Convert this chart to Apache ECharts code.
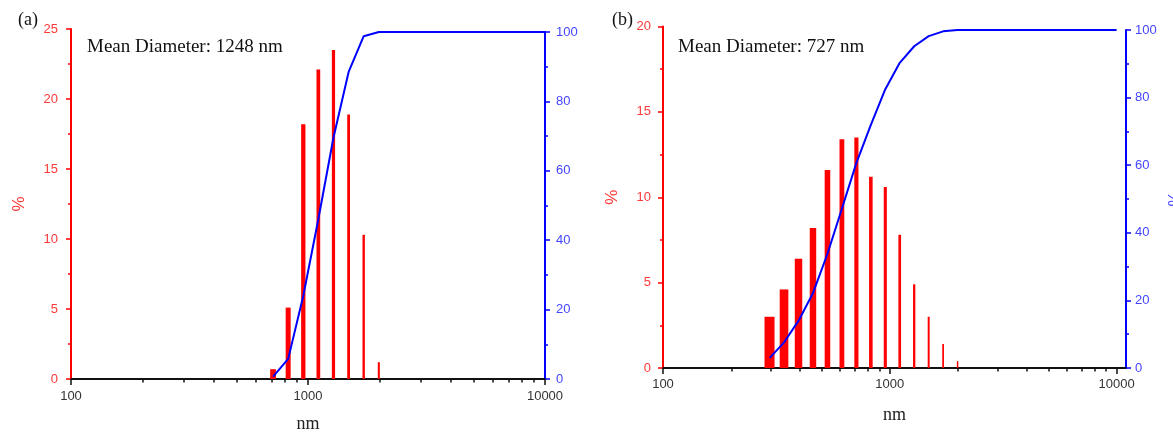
<!DOCTYPE html>
<html>
<head>
<meta charset="utf-8">
<script src="https://cdn.jsdelivr.net/npm/echarts@6/dist/echarts.min.js"></script>
<style>
  html, body { margin: 0; padding: 0; background: #ffffff; }
  #chart { width: 1173px; height: 434px; }
</style>
</head>
<body>
<div id="chart"></div>
<script>
// ---- Sample (a): intensity distribution per size bin (nm, %) ----
const binsA = [712.4, 825.0, 955.4, 1106, 1281, 1484, 1718, 1990];
const pctA  = [0.7, 5.1, 18.2, 22.1, 23.5, 18.9, 10.3, 1.2];
// cumulative undersize (%) for sample (a)
const cumBinsA = [712.4, 825.0, 955.4, 1106, 1281, 1484, 1718, 1990, 2305, 2669, 3091, 3580, 4145, 4801, 5560, 6439, 7456, 8635, 10000];
const cumA     = [0.7, 5.8, 24.0, 46.1, 69.6, 88.5, 98.8, 100, 100, 100, 100, 100, 100, 100, 100, 100, 100, 100, 100];

// ---- Sample (b) ----
const binsB = [295.3, 342.0, 396.1, 458.7, 531.2, 615.1, 712.4, 825.0, 955.4, 1106, 1281, 1484, 1718, 1990];
const pctB  = [3.0, 4.6, 6.4, 8.2, 11.6, 13.4, 13.5, 11.2, 10.6, 7.8, 4.9, 3.0, 1.4, 0.4];
const cumBinsB = [295.3, 342.0, 396.1, 458.7, 531.2, 615.1, 712.4, 825.0, 955.4, 1106, 1281, 1484, 1718, 1990, 2305, 2669, 3091, 3580, 4145, 4801, 5560, 6439, 7456, 8635, 10000];
const cumB     = [3.0, 7.6, 14.0, 22.2, 33.8, 47.2, 60.7, 71.9, 82.5, 90.3, 95.2, 98.2, 99.6, 100, 100, 100, 100, 100, 100, 100, 100, 100, 100, 100, 100];

// ---- Text and tick values ----
const meanTextA = 'Mean Diameter: 1248 nm';
const meanTextB = 'Mean Diameter: 727 nm';
const majorTicks = [100, 1000, 10000];
const minorTicks = [200, 300, 400, 500, 600, 700, 800, 900, 2000, 3000, 4000, 5000, 6000, 7000, 8000, 9000];

const RED = '#ff0000', RED_TEXT = '#ff3838';
const BLUE = '#0000ff', BLUE_TEXT = '#4545ff';
const SANS = '"Liberation Sans", Arial, sans-serif';
const SERIF = '"Liberation Serif", "Times New Roman", serif';

const zip = (xs, ys) => xs.map((x, i) => [x, ys[i]]);

// bars have a fixed width in nm, so they narrow along the log axis
function barRenderer(halfWidthNm) {
  return function (params, api) {
    const x = api.value(0), v = api.value(1);
    const base = api.coord([x - halfWidthNm, 0]);
    const top = api.coord([x + halfWidthNm, v]);
    return {
      type: 'rect',
      shape: { x: base[0], y: top[1], width: top[0] - base[0], height: base[1] - top[1] },
      style: { fill: RED }
    };
  };
}

function xMajor(gridIndex, max, labelMargin, nameGap) {
  return {
    type: 'log', gridIndex, min: 100, max, logBase: 10,
    axisLine: { show: true, onZero: false, lineStyle: { color: '#111', width: 2 } },
    axisTick: { show: true, customValues: majorTicks, length: 6, lineStyle: { color: '#111', width: 1.5 } },
    minorTick: { show: false },
    axisLabel: {
      customValues: majorTicks, margin: labelMargin, color: '#333', fontSize: 13, fontFamily: SANS,
      formatter: v => String(Math.round(v))
    },
    splitLine: { show: false },
    name: 'nm', nameLocation: 'middle', nameGap,
    nameTextStyle: { fontFamily: SERIF, fontSize: 18, color: '#222' }
  };
}
function xMinor(gridIndex, max) {
  return {
    type: 'log', gridIndex, min: 100, max, logBase: 10,
    axisLine: { show: false, onZero: false },
    axisTick: { show: true, customValues: minorTicks, length: 3.5, lineStyle: { color: '#111', width: 1.5 } },
    axisLabel: { show: false },
    splitLine: { show: false }
  };
}
function yAxisDef(gridIndex, max, interval, position, lineColor, textColor, labelMargin, nameGap) {
  return {
    type: 'value', gridIndex, min: 0, max, interval, position,
    axisLine: { show: true, lineStyle: { color: lineColor, width: 2 } },
    axisTick: { show: true, length: 5, lineStyle: { color: lineColor, width: 1.5 } },
    minorTick: { show: true, splitNumber: 2, length: 3, lineStyle: { color: lineColor, width: 1.5 } },
    axisLabel: { color: textColor, fontSize: 13, fontFamily: SANS, margin: labelMargin },
    splitLine: { show: false },
    name: nameGap ? '%' : '', nameLocation: 'middle', nameGap: nameGap || 0, nameRotate: 90,
    nameTextStyle: { color: textColor, fontSize: 17, fontFamily: SANS }
  };
}

const gridBase = { outerBoundsMode: 'none', containLabel: false };

const chart = echarts.init(document.getElementById('chart'), null, { renderer: 'canvas' });
chart.setOption({
  animation: false,
  backgroundColor: '#ffffff',
  grid: [
    Object.assign({ left: 71,  right: 628, top: 29,   bottom: 55 }, gridBase),
    Object.assign({ left: 71,  right: 628, top: 32,   bottom: 55 }, gridBase),
    Object.assign({ left: 663, right: 47,  top: 26.5, bottom: 66 }, gridBase),
    Object.assign({ left: 663, right: 47,  top: 30,   bottom: 66 }, gridBase)
  ],
  xAxis: [
    xMajor(0, 10000, 11, 36),
    xMinor(1, 10000),
    xMajor(2, 11000, 10, 38),
    xMinor(3, 11000)
  ],
  yAxis: [
    yAxisDef(0, 25, 5, 'left', RED, RED_TEXT, 13, 43),
    yAxisDef(1, 100, 20, 'right', BLUE, BLUE_TEXT, 11, 0),
    yAxisDef(2, 20, 5, 'left', RED, RED_TEXT, 12, 42),
    yAxisDef(3, 100, 20, 'right', BLUE, BLUE_TEXT, 9, 41)
  ],
  series: [
    {
      type: 'custom', xAxisIndex: 0, yAxisIndex: 0, clip: false,
      encode: { x: 0, y: 1 }, data: zip(binsA, pctA), renderItem: barRenderer(20)
    },
    {
      type: 'line', xAxisIndex: 1, yAxisIndex: 1, data: zip(cumBinsA, cumA),
      symbol: 'none', lineStyle: { color: BLUE, width: 2 }, itemStyle: { color: BLUE }
    },
    {
      type: 'custom', xAxisIndex: 2, yAxisIndex: 2, clip: false,
      encode: { x: 0, y: 1 }, data: zip(binsB, pctB), renderItem: barRenderer(15)
    },
    {
      type: 'line', xAxisIndex: 3, yAxisIndex: 3, data: zip(cumBinsB, cumB),
      symbol: 'none', lineStyle: { color: BLUE, width: 2 }, itemStyle: { color: BLUE }
    }
  ],
  graphic: [
    { type: 'text', left: 18, top: 11, style: { text: '(a)', font: '18px ' + SERIF, fill: '#111' } },
    { type: 'text', left: 87, top: 38, style: { text: meanTextA, font: '19px ' + SERIF, fill: '#111' } },
    { type: 'text', left: 612, top: 11, style: { text: '(b)', font: '18px ' + SERIF, fill: '#111' } },
    { type: 'text', left: 678, top: 37.5, style: { text: meanTextB, font: '19px ' + SERIF, fill: '#111' } }
  ]
});
</script>
</body>
</html>
